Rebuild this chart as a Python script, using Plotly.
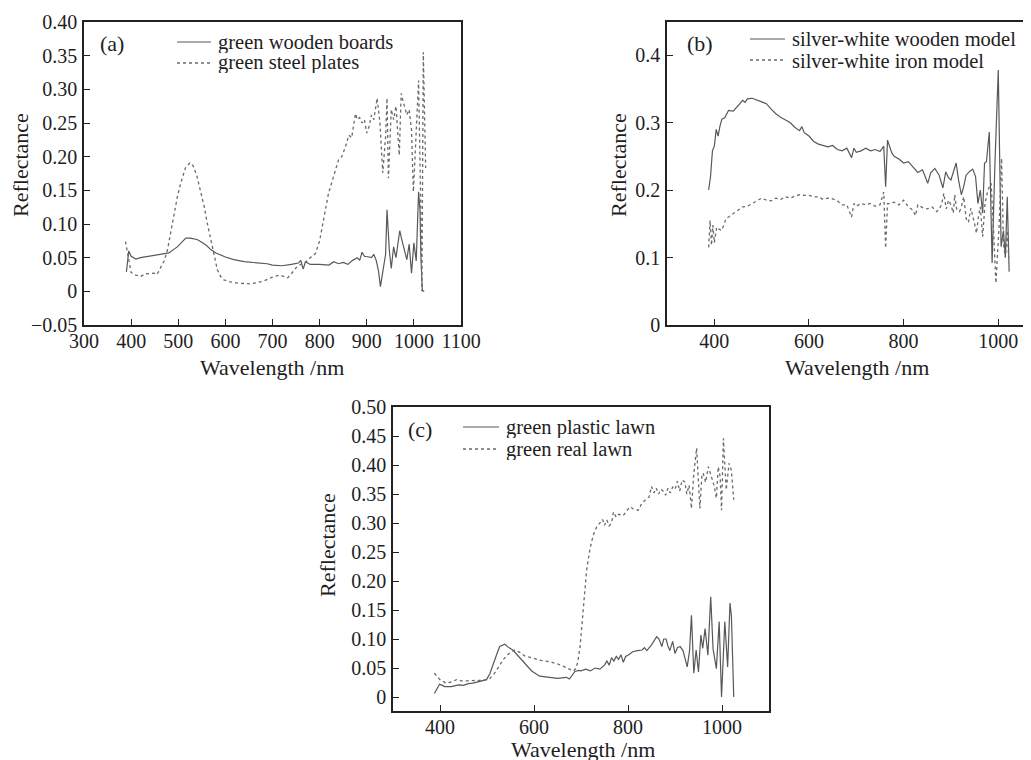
import plotly.graph_objects as go

# ---------------- data ----------------
# (a)
wl_a_wood = [390, 395, 400, 410, 420, 440, 460, 480, 498, 510, 516, 525, 533, 540, 550, 560, 569, 580,
             600, 618, 640, 660, 689, 700, 720, 740, 755, 760, 765, 770, 780, 800, 820, 830, 840, 850,
             860, 870, 880, 885, 890, 895, 900, 905, 910, 915, 920, 925, 929, 935, 940, 943, 948, 952,
             957, 962, 970, 975, 980, 985, 990, 995, 1000, 1005, 1010, 1013, 1015, 1018, 1022]
r_a_wood = [0.029, 0.060, 0.052, 0.048, 0.050, 0.052, 0.054, 0.057, 0.066, 0.074, 0.079, 0.079, 0.078,
            0.077, 0.073, 0.068, 0.062, 0.057, 0.051, 0.047, 0.044, 0.043, 0.041, 0.039, 0.038, 0.040,
            0.042, 0.046, 0.033, 0.044, 0.040, 0.040, 0.039, 0.044, 0.041, 0.043, 0.040, 0.046, 0.050,
            0.046, 0.058, 0.052, 0.052, 0.051, 0.050, 0.055, 0.046, 0.030, 0.007, 0.030, 0.055, 0.121,
            0.060, 0.034, 0.066, 0.050, 0.090, 0.075, 0.060, 0.047, 0.070, 0.027, 0.072, 0.045, 0.148,
            0.120, 0.050, 0.001, 0.000]
wl_a_steel = [388, 395, 400, 410, 420, 430, 440, 448, 455, 463, 470, 477, 484, 491, 498, 505, 515, 525,
              532, 540, 548, 555, 562, 569, 576, 583, 590, 597, 610, 630, 654, 680, 703, 715, 725, 732,
              740, 750, 760, 770, 780, 791, 800, 805, 812, 819, 830, 840, 847, 855, 862, 868, 876, 880,
              885, 890, 895, 900, 905, 910, 915, 922, 928, 934, 940, 943, 946, 952, 957, 962, 969, 973,
              978, 985, 990, 995, 999, 1005, 1010, 1014, 1017, 1020, 1025]
r_a_steel = [0.074, 0.050, 0.028, 0.024, 0.022, 0.026, 0.027, 0.027, 0.025, 0.037, 0.045, 0.061, 0.086,
             0.116, 0.140, 0.160, 0.183, 0.191, 0.186, 0.170, 0.148, 0.126, 0.100, 0.076, 0.052, 0.032,
             0.022, 0.017, 0.014, 0.012, 0.011, 0.015, 0.022, 0.024, 0.022, 0.020, 0.026, 0.035, 0.040,
             0.043, 0.050, 0.056, 0.075, 0.096, 0.120, 0.146, 0.172, 0.195, 0.200, 0.215, 0.232, 0.228,
             0.264, 0.255, 0.258, 0.250, 0.255, 0.235, 0.245, 0.262, 0.255, 0.287, 0.250, 0.176, 0.230,
             0.287, 0.168, 0.270, 0.255, 0.275, 0.202, 0.294, 0.280, 0.262, 0.270, 0.240, 0.148, 0.250,
             0.313, 0.150, 0.000, 0.355, 0.183]

# (b)
wl_b_wood = [388, 392, 396, 400, 404, 408, 412, 416, 422, 430, 440, 450, 460, 465, 470, 480, 490, 500,
             510, 520, 530, 540, 550, 560, 570, 580, 585, 590, 600, 610, 620, 630, 640, 650, 660, 670,
             680, 690, 695, 700, 710, 720, 730, 740, 750, 758, 762, 766, 775, 780, 790, 800, 810, 820,
             830, 840, 851, 857, 866, 875, 883, 889, 895, 900, 905, 911, 916, 922, 927, 932, 940, 946,
             952, 957, 962, 967, 971, 975, 981, 987, 993, 1000, 1006, 1011, 1015, 1019, 1023]
r_b_wood = [0.200, 0.220, 0.258, 0.265, 0.290, 0.280, 0.295, 0.305, 0.307, 0.318, 0.317, 0.325, 0.333,
            0.330, 0.335, 0.336, 0.333, 0.330, 0.328, 0.320, 0.313, 0.308, 0.304, 0.300, 0.293, 0.288,
            0.294, 0.285, 0.280, 0.272, 0.268, 0.266, 0.264, 0.266, 0.260, 0.258, 0.262, 0.248, 0.262,
            0.256, 0.258, 0.262, 0.258, 0.260, 0.257, 0.265, 0.205, 0.274, 0.255, 0.250, 0.246, 0.240,
            0.242, 0.234, 0.226, 0.230, 0.210, 0.225, 0.232, 0.222, 0.203, 0.227, 0.218, 0.215, 0.228,
            0.240, 0.215, 0.193, 0.205, 0.222, 0.228, 0.231, 0.220, 0.180, 0.200, 0.166, 0.240, 0.242,
            0.286, 0.092, 0.240, 0.378, 0.116, 0.140, 0.100, 0.190, 0.079]
wl_b_iron = [388, 391, 394, 397, 400, 405, 410, 415, 420, 425, 430, 440, 450, 460, 470, 480, 490, 500,
             510, 520, 530, 540, 550, 560, 570, 580, 590, 600, 610, 620, 630, 640, 650, 660, 670, 680,
             690, 695, 700, 710, 720, 730, 740, 750, 758, 762, 766, 770, 780, 790, 800, 810, 820, 825,
             830, 840, 850, 860, 870, 875, 880, 885, 890, 895, 900, 905, 908, 912, 918, 922, 927, 932,
             937, 942, 950, 954, 958, 962, 967, 972, 978, 985, 990, 995, 1002, 1007, 1011, 1015, 1019, 1022]
r_b_iron = [0.115, 0.155, 0.118, 0.148, 0.122, 0.145, 0.142, 0.140, 0.148, 0.158, 0.160, 0.165, 0.170,
            0.175, 0.176, 0.180, 0.183, 0.188, 0.185, 0.184, 0.188, 0.186, 0.190, 0.188, 0.191, 0.193,
            0.192, 0.192, 0.190, 0.190, 0.186, 0.188, 0.187, 0.184, 0.178, 0.178, 0.160, 0.180, 0.176,
            0.180, 0.178, 0.180, 0.176, 0.178, 0.197, 0.114, 0.180, 0.180, 0.182, 0.178, 0.185, 0.175,
            0.170, 0.162, 0.178, 0.174, 0.172, 0.175, 0.168, 0.172, 0.178, 0.195, 0.172, 0.185, 0.178,
            0.166, 0.193, 0.172, 0.168, 0.175, 0.190, 0.158, 0.152, 0.173, 0.150, 0.136, 0.160, 0.175,
            0.131, 0.180, 0.200, 0.210, 0.140, 0.062, 0.150, 0.247, 0.120, 0.100, 0.140, 0.100]

# (c)
wl_c_plastic = [388, 395, 399, 405, 410, 424, 440, 450, 460, 470, 480, 490, 499, 506, 513, 520, 527, 533,
                538, 545, 555, 565, 575, 584, 595, 612, 630, 650, 669, 675, 680, 687, 695, 700, 710, 720,
                730, 740, 750, 755, 760, 765, 770, 775, 780, 785, 790, 795, 800, 810, 820, 830, 835, 840,
                850, 861, 866, 872, 876, 881, 885, 889, 895, 900, 905, 911, 917, 921, 926, 931, 935, 940,
                945, 950, 955, 959, 964, 970, 976, 981, 988, 994, 999, 1006, 1012, 1017, 1020, 1025]
r_c_plastic = [0.006, 0.015, 0.022, 0.020, 0.018, 0.018, 0.021, 0.020, 0.023, 0.024, 0.026, 0.029, 0.030,
               0.040, 0.058, 0.072, 0.087, 0.090, 0.091, 0.086, 0.081, 0.072, 0.063, 0.055, 0.045, 0.036,
               0.034, 0.032, 0.034, 0.031, 0.036, 0.044, 0.046, 0.045, 0.048, 0.045, 0.050, 0.048, 0.055,
               0.062, 0.055, 0.068, 0.062, 0.070, 0.065, 0.073, 0.060, 0.070, 0.072, 0.078, 0.080, 0.081,
               0.085, 0.080, 0.090, 0.104, 0.100, 0.087, 0.100, 0.100, 0.088, 0.080, 0.096, 0.075, 0.085,
               0.087, 0.080, 0.065, 0.052, 0.080, 0.141, 0.041, 0.081, 0.043, 0.107, 0.084, 0.118, 0.072,
               0.173, 0.083, 0.049, 0.130, 0.000, 0.130, 0.052, 0.162, 0.140, 0.000]
wl_c_real = [388, 395, 400, 413, 425, 435, 445, 460, 475, 491, 505, 515, 525, 534, 545, 559, 570, 580,
             598, 615, 633, 650, 665, 675, 684, 690, 694, 698, 705, 712, 719, 726, 733, 740, 746, 750,
             755, 760, 765, 769, 775, 780, 790, 804, 812, 822, 830, 840, 845, 850, 855, 860, 865, 870,
             875, 880, 885, 890, 895, 900, 905, 910, 915, 921, 925, 930, 935, 940, 946, 953, 957, 960,
             965, 971, 978, 983, 988, 992, 996, 999, 1003, 1009, 1015, 1020, 1025]
r_c_real = [0.041, 0.035, 0.030, 0.024, 0.026, 0.030, 0.028, 0.028, 0.028, 0.029, 0.031, 0.040, 0.052,
            0.064, 0.074, 0.081, 0.077, 0.071, 0.067, 0.063, 0.061, 0.057, 0.052, 0.048, 0.045, 0.050,
            0.065, 0.087, 0.150, 0.219, 0.255, 0.279, 0.293, 0.300, 0.306, 0.296, 0.305, 0.295, 0.300,
            0.319, 0.310, 0.315, 0.313, 0.328, 0.324, 0.322, 0.335, 0.342, 0.345, 0.363, 0.352, 0.360,
            0.350, 0.358, 0.355, 0.348, 0.360, 0.352, 0.362, 0.358, 0.372, 0.355, 0.374, 0.371, 0.350,
            0.365, 0.325, 0.385, 0.429, 0.325, 0.380, 0.386, 0.370, 0.397, 0.380, 0.365, 0.343, 0.397,
            0.380, 0.322, 0.446, 0.357, 0.403, 0.390, 0.340]

names_a = ["green wooden boards", "green steel plates"]
names_b = ["silver-white wooden model", "silver-white iron model"]
names_c = ["green plastic lawn", "green real lawn"]

ticks_a_x = [300, 400, 500, 600, 700, 800, 900, 1000, 1100]
ticks_a_y = [-0.05, 0, 0.05, 0.10, 0.15, 0.20, 0.25, 0.30, 0.35, 0.40]
ticktext_a_y = ["\u22120.05", "0", "0.05", "0.10", "0.15", "0.20", "0.25", "0.30", "0.35", "0.40"]
ticks_b_x = [400, 600, 800, 1000]
ticks_b_y = [0, 0.1, 0.2, 0.3, 0.4]
ticktext_b_y = ["0", "0.1", "0.2", "0.3", "0.4"]
ticks_c_x = [400, 600, 800, 1000]
ticks_c_y = [0, 0.05, 0.10, 0.15, 0.20, 0.25, 0.30, 0.35, 0.40, 0.45, 0.50]
ticktext_c_y = ["0", "0.05", "0.10", "0.15", "0.20", "0.25", "0.30", "0.35", "0.40", "0.45", "0.50"]

# ---------------- figure ----------------
# the page body has an 8px margin, so the figure is 8px smaller and positions are shifted
OFF = 8
W, H = 1031 - OFF, 760 - OFF
FONT = "Liberation Serif"
SOLID = "#585858"
DOT = "#6a6a6a"
TXT = "#1e1e1e"


def px(x):
    return (x - OFF) / W


def py(y):
    return 1 - (y - OFF) / H


fig = go.Figure()

panels = [
    ("x", "y", wl_a_wood, r_a_wood, wl_a_steel, r_a_steel, names_a),
    ("x2", "y2", wl_b_wood, r_b_wood, wl_b_iron, r_b_iron, names_b),
    ("x3", "y3", wl_c_plastic, r_c_plastic, wl_c_real, r_c_real, names_c),
]
for xa, ya, x1, y1, x2, y2, nm in panels:
    fig.add_trace(go.Scatter(x=x1, y=y1, mode="lines", name=nm[0], xaxis=xa, yaxis=ya,
                             line=dict(color=SOLID, width=1.2)))
    fig.add_trace(go.Scatter(x=x2, y=y2, mode="lines", name=nm[1], xaxis=xa, yaxis=ya,
                             line=dict(color=DOT, width=1.3, dash="dot")))

axis_common = dict(showgrid=False, zeroline=False, showline=True, mirror=True, linecolor="#222",
                   linewidth=1.6, ticks="inside", ticklen=6, tickwidth=1.2, tickcolor="#222",
                   automargin=False,
                   tickfont=dict(family=FONT, size=20, color=TXT))

fig.update_layout(
    width=W, height=H, margin=dict(l=0, r=0, t=0, b=0, autoexpand=False),
    paper_bgcolor="white", plot_bgcolor="white", showlegend=False,
    font=dict(family=FONT, size=20, color=TXT),
    xaxis=dict(domain=[px(84), px(461)], range=[300, 1100], tickvals=ticks_a_x, anchor="y",
               ticklabelstandoff=-3, **axis_common),
    yaxis=dict(domain=[py(325), py(22)], range=[-0.05, 0.40], tickvals=ticks_a_y, ticktext=ticktext_a_y,
               anchor="x", ticklabelstandoff=1, **axis_common),
    xaxis2=dict(domain=[px(667), px(1029.5)], range=[300, 1066], tickvals=ticks_b_x, anchor="y2",
                ticklabelstandoff=-3, **axis_common),
    yaxis2=dict(domain=[py(325), py(22)], range=[0, 0.449], tickvals=ticks_b_y, ticktext=ticktext_b_y,
                anchor="x2", ticklabelstandoff=1, **axis_common),
    xaxis3=dict(domain=[px(393), px(769)], range=[300, 1100], tickvals=ticks_c_x, anchor="y3",
                ticklabelstandoff=-3, **axis_common),
    yaxis3=dict(domain=[py(711), py(407)], range=[-0.0241, 0.5], tickvals=ticks_c_y, ticktext=ticktext_c_y,
                anchor="x3", ticklabelstandoff=1, **axis_common),
)

ann = []
shapes = []


def label(text, x, y, size=22, angle=0, anchor="center", height=None):
    a = dict(text=text, x=px(x), y=py(y), xref="paper", yref="paper", showarrow=False,
             xanchor=anchor, yanchor="middle", textangle=angle,
             font=dict(family=FONT, size=size, color=TXT))
    if height is not None:
        a["height"] = height
    ann.append(a)


def legend(names, x0, x1, y_rows):
    styles = [(SOLID, "solid", 1.2), (DOT, "dot", 1.3)]
    for name, yy, (col, dash, w) in zip(names, y_rows, styles):
        shapes.append(dict(type="line", xref="paper", yref="paper", x0=px(x0), x1=px(x1),
                           y0=py(yy), y1=py(yy), line=dict(color=col, width=w, dash=dash)))
        label(name, x1 + 5, yy, size=20.5, anchor="left", height=21)


legend(names_a, 177, 211, [42, 63])
legend(names_b, 750, 785, [39, 60])
legend(names_c, 463, 499, [427, 449])

label("(a)", 112, 43)
label("(b)", 700, 43)
label("(c)", 420, 429)
label("Reflectance", 20, 165, angle=-90)
label("Reflectance", 618, 165, angle=-90)
label("Reflectance", 327, 545, angle=-90)
label("Wavelength /nm", 272, 367)
label("Wavelength /nm", 857, 367)
label("Wavelength /nm", 583, 749, height=22)
fig.update_layout(annotations=ann, shapes=shapes)

fig.write_html("out.html")
